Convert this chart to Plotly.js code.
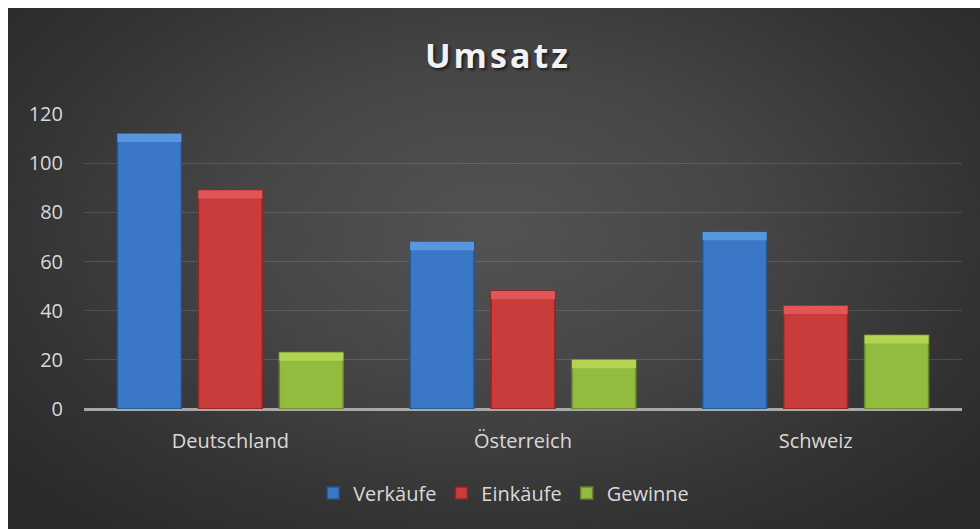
<!DOCTYPE html>
<html>
<head>
<meta charset="utf-8">
<script src="https://cdn.plot.ly/plotly-3.0.1.min.js"></script>
<style>
  html, body { margin: 0; padding: 0; background: #ffffff; }
  #bg { position: absolute; left: 8px; top: 8px; width: 972px; height: 521px;
        background: radial-gradient(ellipse 65% 75% at 50% 42%, #535353 0%, #464646 40%, #343434 75%, #2a2a2a 100%); }
  #chart { position: absolute; left: 0; top: 0; width: 980px; height: 529px; }
  .gtitle { letter-spacing: 3px; }
</style>
</head>
<body>
<div id="bg"></div>
<div id="chart"></div>
<script>
const categories = ['Deutschland', 'Österreich', 'Schweiz'];
const verkaeufe = [112, 68, 72];
const einkaeufe = [89, 48, 42];
const gewinne = [23, 20, 30];
const seriesNames = ['Verkäufe', 'Einkäufe', 'Gewinne'];
const yTicks = [0, 20, 40, 60, 80, 100, 120];

const bodyColors = ['#3a77c6', '#c93c3c', '#93bb3e'];
const edgeColors = ['#24558f', '#8f2525', '#65852a'];
const topColors  = ['#5896e0', '#e05656', '#b2d452'];
const bevel = 3.4;

const seriesData = [verkaeufe, einkaeufe, gewinne];
const traces = [];
seriesData.forEach((vals, i) => {
  traces.push({
    type: 'bar', x: categories, y: vals, name: seriesNames[i],
    offsetgroup: 'g' + i,
    marker: { color: bodyColors[i], line: { color: edgeColors[i], width: 1.5 } },
    hoverinfo: 'skip'
  });
});
seriesData.forEach((vals, i) => {
  traces.push({
    type: 'bar', x: categories, y: vals.map(() => bevel),
    base: vals.map(v => v - bevel),
    offsetgroup: 'g' + i, showlegend: false,
    marker: { color: topColors[i], line: { width: 0 } },
    hoverinfo: 'skip'
  });
});

const layout = {
  width: 980, height: 529,
  paper_bgcolor: 'rgba(0,0,0,0)', plot_bgcolor: 'rgba(0,0,0,0)',
  margin: { l: 84, r: 18, t: 114, b: 120, pad: 0 },
  barmode: 'group', bargap: 0.17, bargroupgap: 0.21,
  font: { family: 'Open Sans, sans-serif', size: 20, color: '#d9d9d9' },
  title: {
    text: '<b>Umsatz</b>',
    font: { family: 'Open Sans, sans-serif', size: 34, color: '#f2f2f2', shadow: '2px 2px 3px rgba(0,0,0,0.6)' },
    x: 0.508, xanchor: 'center', xref: 'container',
    y: 1 - 56 / 529, yanchor: 'middle', yref: 'container'
  },
  xaxis: {
    type: 'category', showgrid: false, zeroline: false,
    showline: false, ticks: 'outside', ticklen: 0, tickcolor: 'rgba(0,0,0,0)',
    ticklabelstandoff: 14,
    tickfont: { size: 20, color: '#d9d9d9' }
  },
  yaxis: {
    range: [0, 120], tickvals: yTicks, ticktext: yTicks.map(String),
    showgrid: true, gridcolor: 'rgba(255,255,255,0.13)', gridwidth: 1,
    zeroline: true, zerolinecolor: '#a8a8a8', zerolinewidth: 3,
    showline: false, ticks: '', ticklabelstandoff: 20,
    tickfont: { size: 20, color: '#d9d9d9' }
  },
  showlegend: true,
  legend: {
    orientation: 'h', x: 0.478, xanchor: 'center', y: -(493 - 409) / 295, yanchor: 'middle',
    font: { size: 20, color: '#d9d9d9' }, bgcolor: 'rgba(0,0,0,0)',
    itemwidth: 30, traceorder: 'normal'
  }
};

Plotly.newPlot('chart', traces, layout, { displayModeBar: false, staticPlot: true });
</script>
</body>
</html>
